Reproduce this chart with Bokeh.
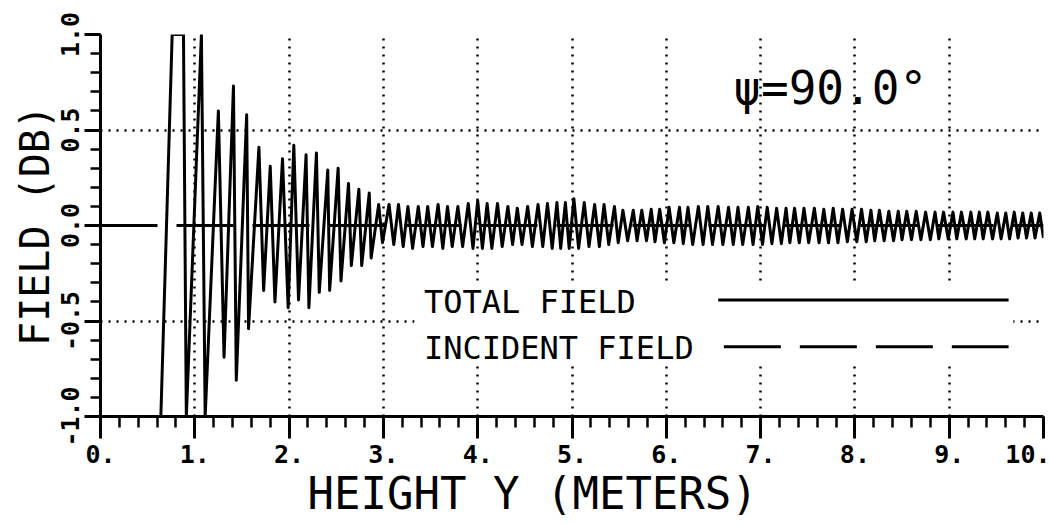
import numpy as np
from bokeh.plotting import figure
from bokeh.models import (Range1d, FixedTicker, Label, Title, BoxAnnotation,
                          CustomJSTickFormatter)
from bokeh.embed import file_html
from bokeh.resources import INLINE

# ---------------- data ----------------
# total field, near-ground part: alternating extrema (clipped at +/-1)
early_x = [0.00, 0.64, 0.76, 0.88, 0.91, 1.07, 1.11, 1.25, 1.31, 1.41,
           1.44, 1.55, 1.57, 1.68, 1.73, 1.80, 1.85, 1.93, 1.99, 2.05,
           2.10, 2.18, 2.21, 2.29, 2.32, 2.41, 2.43, 2.52, 2.55, 2.63,
           2.66, 2.74, 2.77, 2.85, 2.87, 2.95, 2.99, 3.06, 3.11]
early_y = [-1.00, -1.00, 1.00, 1.00, -1.00, 1.00, -1.00, 0.60, -0.69, 0.73,
           -0.81, 0.58, -0.54, 0.41, -0.34, 0.31, -0.40, 0.35, -0.43, 0.42,
           -0.39, 0.37, -0.43, 0.38, -0.35, 0.29, -0.34, 0.30, -0.29, 0.22,
           -0.21, 0.19, -0.21, 0.17, -0.17, 0.11, -0.09, 0.11, -0.10]

# total field, far part: peaks and troughs
peak_x = [3.16, 3.26, 3.37, 3.47, 3.58, 3.68, 3.79, 3.90, 4.00,
          4.10, 4.21, 4.32, 4.42, 4.53, 4.64, 4.74, 4.84, 4.93,
          5.02, 5.13, 5.24, 5.34, 5.45, 5.54, 5.65, 5.74, 5.84, 5.93,
          6.03, 6.14, 6.23, 6.34, 6.44, 6.55, 6.66, 6.76, 6.87, 6.97,
          7.07, 7.17, 7.27, 7.36, 7.46, 7.57, 7.67, 7.77, 7.87, 7.97,
          8.07, 8.17, 8.26, 8.36, 8.46, 8.55, 8.65, 8.75, 8.85, 8.94,
          9.04, 9.13, 9.23, 9.32, 9.41, 9.51, 9.60, 9.69, 9.78, 9.87, 9.96]
peak_y = [0.11, 0.10, 0.10, 0.10, 0.11, 0.10, 0.10, 0.115, 0.13,
          0.115, 0.115, 0.10, 0.09, 0.10, 0.11, 0.115, 0.12, 0.12,
          0.14, 0.12, 0.11, 0.11, 0.10, 0.08, 0.08, 0.08, 0.085, 0.085,
          0.095, 0.095, 0.095, 0.10, 0.10, 0.10, 0.095, 0.095, 0.095, 0.10,
          0.095, 0.09, 0.09, 0.09, 0.09, 0.09, 0.085, 0.09, 0.085, 0.085,
          0.085, 0.08, 0.08, 0.075, 0.075, 0.075, 0.075, 0.07, 0.07, 0.07,
          0.07, 0.07, 0.07, 0.07, 0.07, 0.065, 0.065, 0.07, 0.065, 0.065, 0.065]
trough_x = [3.21, 3.31, 3.42, 3.52, 3.63, 3.73, 3.84, 3.95, 4.05,
            4.15, 4.26, 4.37, 4.47, 4.58, 4.69, 4.79, 4.88, 4.97,
            5.07, 5.18, 5.29, 5.39, 5.49, 5.59, 5.69, 5.79, 5.88, 5.98,
            6.08, 6.18, 6.28, 6.39, 6.49, 6.60, 6.71, 6.81, 6.92, 7.02,
            7.12, 7.22, 7.31, 7.41, 7.51, 7.62, 7.72, 7.82, 7.92, 8.02,
            8.12, 8.21, 8.31, 8.41, 8.50, 8.60, 8.70, 8.80, 8.89, 8.99,
            9.08, 9.18, 9.27, 9.36, 9.46, 9.55, 9.64, 9.73, 9.82, 9.91, 10.0]
trough_y = [-0.11, -0.12, -0.11, -0.11, -0.12, -0.11, -0.11, -0.12, -0.12,
            -0.12, -0.11, -0.10, -0.10, -0.11, -0.11, -0.12, -0.12, -0.12,
            -0.12, -0.11, -0.11, -0.10, -0.09, -0.08, -0.08, -0.08, -0.085, -0.09,
            -0.09, -0.095, -0.10, -0.10, -0.10, -0.10, -0.10, -0.10, -0.10, -0.10,
            -0.095, -0.095, -0.09, -0.09, -0.09, -0.09, -0.09, -0.09, -0.085, -0.085,
            -0.085, -0.08, -0.08, -0.08, -0.075, -0.075, -0.075, -0.075, -0.07, -0.07,
            -0.07, -0.07, -0.07, -0.07, -0.07, -0.07, -0.07, -0.065, -0.065, -0.065, -0.065]

# incident field
incident_x = [0.0, 10.0]
incident_y = [0.0, 0.0]

x_ticks = [0, 1, 2, 3, 4, 5, 6, 7, 8, 9, 10]
x_tick_labels = ["0.", "1.", "2.", "3.", "4.", "5.", "6.", "7.", "8.", "9.", "10."]
y_ticks = [-1.0, -0.5, 0.0, 0.5, 1.0]
y_tick_labels = ["-1.0", "-0.5", "0.0", "0.5", "1.0"]
x_grid = [1, 2, 3, 4, 5, 6, 7, 8, 9, 10]
y_grid = [-0.5, 0.5, 1.0]

# ---------------- assemble ----------------
total_x = list(early_x)
total_y = list(early_y)
for px, py, tx, ty in zip(peak_x, peak_y, trough_x, trough_y):
    total_x += [px, tx]
    total_y += [py, ty]

FONT = "DejaVu Sans Mono"
INK = "black"

p = figure(width=1050, height=524, x_range=Range1d(0, 10), y_range=Range1d(-1, 1),
           output_backend="svg", toolbar_location=None,
           min_border_left=100, min_border_right=7, min_border_top=34, min_border_bottom=108)
p.outline_line_color = None
p.background_fill_color = "white"
p.border_fill_color = "white"

LOOKUP = """
const i = tick_vals.findIndex(t => Math.abs(t - tick) < 1e-6);
return i >= 0 ? tick_texts[i] : '';
"""

# axes
p.xaxis.ticker = FixedTicker(ticks=x_ticks,
                             minor_ticks=[round(v, 2) for v in np.arange(0, 10.001, 0.2)])
p.yaxis.ticker = FixedTicker(ticks=y_ticks,
                             minor_ticks=[round(v, 2) for v in np.arange(-1, 1.001, 0.1)])
p.xaxis.formatter = CustomJSTickFormatter(args=dict(tick_vals=x_ticks, tick_texts=x_tick_labels),
                                          code=LOOKUP)
p.yaxis.formatter = CustomJSTickFormatter(args=dict(tick_vals=y_ticks, tick_texts=y_tick_labels),
                                          code=LOOKUP)
for ax in (p.xaxis[0], p.yaxis[0]):
    ax.axis_line_color = INK
    ax.axis_line_width = 3
    ax.major_tick_line_color = INK
    ax.minor_tick_line_color = INK
    ax.major_tick_line_width = 3
    ax.minor_tick_line_width = 2.5
    ax.major_tick_in = 0
    ax.minor_tick_in = 0
    ax.major_label_text_font = FONT
    ax.major_label_text_font_style = "bold"
    ax.major_label_text_font_size = "25px"
    ax.major_label_text_color = INK
p.xaxis.major_tick_out = 22
p.xaxis.minor_tick_out = 11
p.xaxis.major_label_standoff = 6
p.yaxis.major_tick_out = 16
p.yaxis.minor_tick_out = 10
p.yaxis.major_label_standoff = 6
p.yaxis.major_label_orientation = "parallel"

p.yaxis.axis_label = "FIELD (DB)"
p.yaxis.axis_label_text_font = FONT
p.yaxis.axis_label_text_font_style = "normal"
p.yaxis.axis_label_text_font_size = "40px"
p.yaxis.axis_label_text_color = INK
p.yaxis.axis_label_standoff = 0

p.add_layout(Title(text="HEIGHT Y (METERS)", align="left", offset=207, standoff=0,
                   text_font=FONT, text_font_style="normal", text_font_size="44px",
                   text_color=INK), "below")

# dotted grid
p.xgrid.ticker = FixedTicker(ticks=x_grid)
p.ygrid.ticker = FixedTicker(ticks=y_grid)
for g in (p.xgrid[0], p.ygrid[0]):
    g.grid_line_color = INK
    g.grid_line_width = 2.5
    g.grid_line_dash = "2 6"

# legend backdrop (blanks the grid under the legend)
p.add_layout(BoxAnnotation(left=3.33, right=9.68, top=-0.30, bottom=-0.72,
                           fill_color="white", fill_alpha=1.0, line_color=None,
                           level="underlay"))

# curves
p.line(total_x, total_y, line_color=INK, line_width=3, line_join="round")
p.line(incident_x, incident_y, line_color=INK, line_width=3, line_dash="57 19")

# legend keys and texts (layout positions)
LEG_TEXT_X = 3.43
p.line([6.55, 9.63], [-0.39, -0.39], line_color=INK, line_width=3)
p.line([6.61, 9.63], [-0.635, -0.635], line_color=INK, line_width=3, line_dash="57 19")
p.add_layout(Label(x=LEG_TEXT_X, y=-0.40, text="TOTAL FIELD", text_font=FONT,
                   text_font_style="normal", text_font_size="32px", text_color=INK,
                   text_baseline="middle"))
p.add_layout(Label(x=LEG_TEXT_X, y=-0.64, text="INCIDENT FIELD", text_font=FONT,
                   text_font_style="normal", text_font_size="32px", text_color=INK,
                   text_baseline="middle"))

# angle annotation
p.add_layout(Label(x=6.71, y=0.72, text="ψ=90.0°", text_font=FONT,
                   text_font_style="normal", text_font_size="46px", text_color=INK,
                   text_baseline="middle"))

open("out.html", "w").write(file_html(p, INLINE))
